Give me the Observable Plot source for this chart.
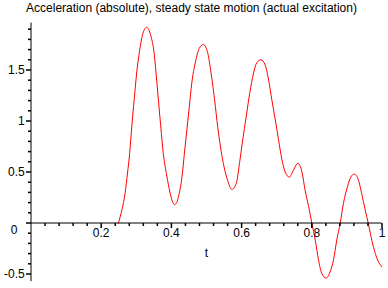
<!DOCTYPE html>
<html>
<head>
<meta charset="utf-8">
<script src="https://cdn.jsdelivr.net/npm/d3@7"></script>
<script src="https://cdn.jsdelivr.net/npm/@observablehq/plot@0.6"></script>
<style>
  html, body { margin: 0; padding: 0; background: #fff; }
  body { width: 388px; height: 288px; position: relative; overflow: hidden;
         font-family: "Liberation Sans", Arial, sans-serif; }
  #title { position: absolute; left: 0; top: 1px; width: 383px; text-align: center;
           font-size: 12px; line-height: 15px; color: #000; white-space: nowrap; }
  #chart { position: absolute; left: 0; top: 20px; }
</style>
</head>
<body>
<div id="title"></div>
<div id="chart"></div>
<script>
// ---- data ----
const titleText = "Acceleration (absolute), steady state motion (actual excitation)";
const xLabel = "t";

const tValues = [
  0.249, 0.259, 0.268, 0.275, 0.281, 0.287, 0.294, 0.301, 0.309, 0.319, 0.330,
  0.341, 0.351, 0.358, 0.368, 0.377, 0.387, 0.396, 0.403, 0.409, 0.415, 0.421,
  0.430, 0.437, 0.444, 0.451, 0.458, 0.468, 0.479, 0.491, 0.504, 0.513, 0.523,
  0.532, 0.542, 0.550, 0.560, 0.572, 0.585, 0.594, 0.603, 0.613, 0.623, 0.634,
  0.643, 0.655, 0.667, 0.677, 0.686, 0.696, 0.705, 0.715, 0.724, 0.736, 0.748,
  0.760, 0.772, 0.781, 0.791, 0.800, 0.810, 0.819, 0.828, 0.841, 0.852, 0.862,
  0.871, 0.881, 0.890, 0.902, 0.911, 0.921, 0.933, 0.942, 0.952, 0.962, 0.971,
  0.981, 0.990, 1.000
];
const accValues = [
  0, 0.13, 0.29, 0.49, 0.68, 0.94, 1.21, 1.47, 1.68, 1.86, 1.92,
  1.84, 1.66, 1.40, 1.01, 0.68, 0.46, 0.30, 0.21, 0.18, 0.20, 0.27,
  0.45, 0.68, 0.91, 1.14, 1.37, 1.57, 1.71, 1.75, 1.66, 1.47, 1.21,
  0.94, 0.70, 0.55, 0.42, 0.33, 0.39, 0.585, 0.81, 1.04, 1.27, 1.47,
  1.57, 1.60, 1.55, 1.40, 1.21, 1.01, 0.82, 0.62, 0.50, 0.45, 0.52,
  0.585, 0.50, 0.32, 0.16, 0.0, -0.17, -0.36, -0.49, -0.54, -0.48, -0.36,
  -0.17, 0.0, 0.19, 0.36, 0.45, 0.48, 0.42, 0.29, 0.13, -0.02, -0.17,
  -0.30, -0.38, -0.43
];

const xMajorTicks = [0.2, 0.4, 0.6, 0.8, 1];
const xTickLabels = ["0.2", "0.4", "0.6", "0.8", "1"];
const xMinorTicks = [0.04, 0.08, 0.12, 0.16, 0.24, 0.28, 0.32, 0.36, 0.44, 0.48, 0.52, 0.56,
                     0.64, 0.68, 0.72, 0.76, 0.84, 0.88, 0.92, 0.96];
const yMajorTicks = [-0.5, 0, 0.5, 1, 1.5];
const yTickLabels = ["-0.5", "0", "0.5", "1", "1.5"];
const yMinorTicks = [-0.4, -0.3, -0.2, -0.1, 0.1, 0.2, 0.3, 0.4, 0.6, 0.7, 0.8, 0.9,
                     1.1, 1.2, 1.3, 1.4, 1.6, 1.7, 1.8, 1.9];

const xDomain = [0, 1];
const yDomain = [-0.575, 1.96];

// ---- build ----
document.getElementById("title").textContent = titleText;

const data = tValues.map((t, i) => ({t, a: accValues[i]}));
const yLabeled = yMajorTicks.map((v, i) => ({v, label: yTickLabels[i]})).filter(d => d.v !== 0);
const yZero = yMajorTicks.map((v, i) => ({v, label: yTickLabels[i]})).filter(d => d.v === 0);
const xLabeled = xMajorTicks.map((v, i) => ({v, label: xTickLabels[i]}));

const tickSymbol = (dx, dy) => ({ draw(ctx) { ctx.moveTo(0, 0); ctx.lineTo(dx, dy); } });
const leftMajor = tickSymbol(-5, 0), leftMinor = tickSymbol(-3, 0);
const downMajor = tickSymbol(0, 5), downMinor = tickSymbol(0, 3);

const chart = Plot.plot({
  width: 388,
  height: 268,
  marginLeft: 30.5,
  marginRight: 6.5,
  marginTop: 2.58,
  marginBottom: 6.85,
  style: {fontFamily: "'Liberation Sans', Arial, sans-serif", fontSize: "12px", background: "#fff", color: "#000"},
  x: {domain: xDomain, axis: null},
  y: {domain: yDomain, axis: null},
  marks: [
    Plot.line(data, {x: "t", y: "a", stroke: "#ff0000", strokeWidth: 1, curve: "monotone-x"}),
    // axes lines
    Plot.ruleY([0], {y: d => d, x1: xDomain[0], x2: xDomain[1], stroke: "#000", strokeWidth: 1}),
    Plot.ruleX([0], {x: d => d, y1: yDomain[0], y2: yDomain[1], stroke: "#000", strokeWidth: 1}),
    // ticks
    Plot.dot(xMinorTicks, {x: d => d, y: () => 0, symbol: downMinor, stroke: "#000", fill: "none", r: 3}),
    Plot.dot(xMajorTicks, {x: d => d, y: () => 0, symbol: downMajor, stroke: "#000", fill: "none", r: 3}),
    Plot.dot(yMinorTicks, {x: () => 0, y: d => d, symbol: leftMinor, stroke: "#000", fill: "none", r: 3}),
    Plot.dot(yMajorTicks, {x: () => 0, y: d => d, symbol: leftMajor, stroke: "#000", fill: "none", r: 3}),
    // tick labels
    Plot.text(xLabeled, {x: "v", y: () => 0, text: "label", lineAnchor: "top", dy: 5.5, fontSize: 12, fill: "#000"}),
    Plot.text(yLabeled, {x: () => 0, y: "v", text: "label", textAnchor: "end", dx: -6.2, lineAnchor: "middle", fontSize: 12, fill: "#000"}),
    Plot.text(yZero, {x: () => 0, y: "v", text: "label", textAnchor: "end", dx: -13.5, dy: 7, lineAnchor: "middle", fontSize: 12, fill: "#000"}),
    // axis label
    Plot.text([xLabel], {x: () => (xDomain[0] + xDomain[1]) / 2, y: () => 0, text: d => d, lineAnchor: "bottom", dy: 33.7, fontSize: 12, fill: "#000"})
  ]
});
document.getElementById("chart").appendChild(chart);
</script>
</body>
</html>
